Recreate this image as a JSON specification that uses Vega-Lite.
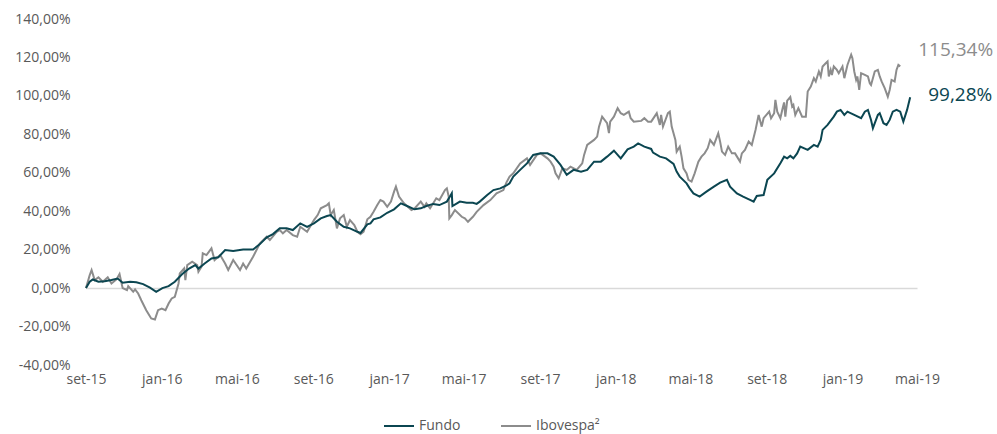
{
  "$schema": "https://vega.github.io/schema/vega-lite/v6.json",
  "width": 831,
  "height": 346,
  "autosize": {"type": "none"},
  "padding": {"left": 86, "top": 19, "right": 80, "bottom": 69},
  "background": "white",
  "config": {
    "view": {"stroke": null},
    "font": "Open Sans",
    "axis": {"labelFont": "Open Sans", "labelFontSize": 14, "labelColor": "#595959", "domain": false, "ticks": false, "grid": false, "title": null}
  },
  "data": {"values": [
{"data":"2015-09-01","serie":"Ibovespa²","valor":0},
{"data":"2015-09-07","serie":"Ibovespa²","valor":6.8},
{"data":"2015-09-10","serie":"Ibovespa²","valor":9.4},
{"data":"2015-09-15","serie":"Ibovespa²","valor":4.2},
{"data":"2015-09-21","serie":"Ibovespa²","valor":5.6},
{"data":"2015-09-28","serie":"Ibovespa²","valor":3.3},
{"data":"2015-10-06","serie":"Ibovespa²","valor":5.6},
{"data":"2015-10-12","serie":"Ibovespa²","valor":2.4},
{"data":"2015-10-20","serie":"Ibovespa²","valor":4.5},
{"data":"2015-10-25","serie":"Ibovespa²","valor":7.3},
{"data":"2015-10-30","serie":"Ibovespa²","valor":0},
{"data":"2015-11-06","serie":"Ibovespa²","valor":-1.0},
{"data":"2015-11-08","serie":"Ibovespa²","valor":1.0},
{"data":"2015-11-16","serie":"Ibovespa²","valor":-1.9},
{"data":"2015-11-19","serie":"Ibovespa²","valor":-0.7},
{"data":"2015-11-24","serie":"Ibovespa²","valor":-2.8},
{"data":"2015-11-29","serie":"Ibovespa²","valor":-6.3},
{"data":"2015-12-07","serie":"Ibovespa²","valor":-11.5},
{"data":"2015-12-15","serie":"Ibovespa²","valor":-15.8},
{"data":"2015-12-21","serie":"Ibovespa²","valor":-16.3},
{"data":"2015-12-26","serie":"Ibovespa²","valor":-11.5},
{"data":"2016-01-01","serie":"Ibovespa²","valor":-10.6},
{"data":"2016-01-07","serie":"Ibovespa²","valor":-11.5},
{"data":"2016-01-12","serie":"Ibovespa²","valor":-8.0},
{"data":"2016-01-17","serie":"Ibovespa²","valor":-5.4},
{"data":"2016-01-22","serie":"Ibovespa²","valor":-4.5},
{"data":"2016-01-28","serie":"Ibovespa²","valor":2.4},
{"data":"2016-01-30","serie":"Ibovespa²","valor":7.6},
{"data":"2016-02-06","serie":"Ibovespa²","valor":10.2},
{"data":"2016-02-08","serie":"Ibovespa²","valor":4.2},
{"data":"2016-02-11","serie":"Ibovespa²","valor":12.0},
{"data":"2016-02-19","serie":"Ibovespa²","valor":13.7},
{"data":"2016-02-27","serie":"Ibovespa²","valor":12.0},
{"data":"2016-02-29","serie":"Ibovespa²","valor":8.5},
{"data":"2016-03-05","serie":"Ibovespa²","valor":11.1},
{"data":"2016-03-07","serie":"Ibovespa²","valor":18.1},
{"data":"2016-03-13","serie":"Ibovespa²","valor":17.2},
{"data":"2016-03-21","serie":"Ibovespa²","valor":20.7},
{"data":"2016-03-26","serie":"Ibovespa²","valor":14.6},
{"data":"2016-04-04","serie":"Ibovespa²","valor":17.2},
{"data":"2016-04-12","serie":"Ibovespa²","valor":12.8},
{"data":"2016-04-17","serie":"Ibovespa²","valor":9.4},
{"data":"2016-04-25","serie":"Ibovespa²","valor":14.6},
{"data":"2016-05-06","serie":"Ibovespa²","valor":9.4},
{"data":"2016-05-11","serie":"Ibovespa²","valor":12.8},
{"data":"2016-05-16","serie":"Ibovespa²","valor":10.2},
{"data":"2016-05-27","serie":"Ibovespa²","valor":16.3},
{"data":"2016-06-07","serie":"Ibovespa²","valor":23.3},
{"data":"2016-06-18","serie":"Ibovespa²","valor":26.7},
{"data":"2016-06-23","serie":"Ibovespa²","valor":25.0},
{"data":"2016-07-04","serie":"Ibovespa²","valor":29.3},
{"data":"2016-07-09","serie":"Ibovespa²","valor":30.2},
{"data":"2016-07-14","serie":"Ibovespa²","valor":28.5},
{"data":"2016-07-20","serie":"Ibovespa²","valor":30.2},
{"data":"2016-07-30","serie":"Ibovespa²","valor":27.6},
{"data":"2016-08-06","serie":"Ibovespa²","valor":26.7},
{"data":"2016-08-11","serie":"Ibovespa²","valor":31.9},
{"data":"2016-08-22","serie":"Ibovespa²","valor":29.3},
{"data":"2016-09-02","serie":"Ibovespa²","valor":35.4},
{"data":"2016-09-08","serie":"Ibovespa²","valor":38.0},
{"data":"2016-09-13","serie":"Ibovespa²","valor":41.5},
{"data":"2016-09-23","serie":"Ibovespa²","valor":43.2},
{"data":"2016-09-26","serie":"Ibovespa²","valor":44.1},
{"data":"2016-09-29","serie":"Ibovespa²","valor":38.0},
{"data":"2016-10-04","serie":"Ibovespa²","valor":40.6},
{"data":"2016-10-09","serie":"Ibovespa²","valor":31.1},
{"data":"2016-10-14","serie":"Ibovespa²","valor":36.3},
{"data":"2016-10-20","serie":"Ibovespa²","valor":38.0},
{"data":"2016-10-25","serie":"Ibovespa²","valor":31.9},
{"data":"2016-10-30","serie":"Ibovespa²","valor":35.4},
{"data":"2016-11-06","serie":"Ibovespa²","valor":32.8},
{"data":"2016-11-11","serie":"Ibovespa²","valor":29.3},
{"data":"2016-11-16","serie":"Ibovespa²","valor":28.0},
{"data":"2016-11-21","serie":"Ibovespa²","valor":29.3},
{"data":"2016-11-27","serie":"Ibovespa²","valor":35.8},
{"data":"2016-12-02","serie":"Ibovespa²","valor":37.1},
{"data":"2016-12-07","serie":"Ibovespa²","valor":39.7},
{"data":"2016-12-13","serie":"Ibovespa²","valor":43.2},
{"data":"2016-12-18","serie":"Ibovespa²","valor":45.8},
{"data":"2016-12-23","serie":"Ibovespa²","valor":45.0},
{"data":"2016-12-29","serie":"Ibovespa²","valor":42.3},
{"data":"2017-01-04","serie":"Ibovespa²","valor":45.0},
{"data":"2017-01-09","serie":"Ibovespa²","valor":50.2},
{"data":"2017-01-12","serie":"Ibovespa²","valor":52.8},
{"data":"2017-01-17","serie":"Ibovespa²","valor":47.6},
{"data":"2017-01-25","serie":"Ibovespa²","valor":44.1},
{"data":"2017-02-06","serie":"Ibovespa²","valor":40.6},
{"data":"2017-02-11","serie":"Ibovespa²","valor":41.5},
{"data":"2017-02-21","serie":"Ibovespa²","valor":45.0},
{"data":"2017-02-27","serie":"Ibovespa²","valor":42.3},
{"data":"2017-03-02","serie":"Ibovespa²","valor":44.1},
{"data":"2017-03-08","serie":"Ibovespa²","valor":41.5},
{"data":"2017-03-18","serie":"Ibovespa²","valor":46.7},
{"data":"2017-03-23","serie":"Ibovespa²","valor":45.8},
{"data":"2017-04-01","serie":"Ibovespa²","valor":51.0},
{"data":"2017-04-04","serie":"Ibovespa²","valor":51.9},
{"data":"2017-04-07","serie":"Ibovespa²","valor":47.6},
{"data":"2017-04-08","serie":"Ibovespa²","valor":36.3},
{"data":"2017-04-12","serie":"Ibovespa²","valor":38.0},
{"data":"2017-04-17","serie":"Ibovespa²","valor":40.6},
{"data":"2017-04-28","serie":"Ibovespa²","valor":37.1},
{"data":"2017-05-03","serie":"Ibovespa²","valor":36.3},
{"data":"2017-05-08","serie":"Ibovespa²","valor":34.5},
{"data":"2017-05-16","serie":"Ibovespa²","valor":37.1},
{"data":"2017-05-22","serie":"Ibovespa²","valor":39.7},
{"data":"2017-06-02","serie":"Ibovespa²","valor":43.2},
{"data":"2017-06-13","serie":"Ibovespa²","valor":45.8},
{"data":"2017-06-23","serie":"Ibovespa²","valor":49.3},
{"data":"2017-07-04","serie":"Ibovespa²","valor":51.0},
{"data":"2017-07-09","serie":"Ibovespa²","valor":55.0},
{"data":"2017-07-14","serie":"Ibovespa²","valor":58.0},
{"data":"2017-07-20","serie":"Ibovespa²","valor":59.7},
{"data":"2017-07-31","serie":"Ibovespa²","valor":64.9},
{"data":"2017-08-11","serie":"Ibovespa²","valor":67.5},
{"data":"2017-08-16","serie":"Ibovespa²","valor":64.1},
{"data":"2017-08-27","serie":"Ibovespa²","valor":69.3},
{"data":"2017-09-02","serie":"Ibovespa²","valor":70.1},
{"data":"2017-09-13","serie":"Ibovespa²","valor":67.5},
{"data":"2017-09-18","serie":"Ibovespa²","valor":65.8},
{"data":"2017-09-23","serie":"Ibovespa²","valor":63.2},
{"data":"2017-09-26","serie":"Ibovespa²","valor":59.7},
{"data":"2017-10-01","serie":"Ibovespa²","valor":57.1},
{"data":"2017-10-07","serie":"Ibovespa²","valor":62.3},
{"data":"2017-10-14","serie":"Ibovespa²","valor":61.5},
{"data":"2017-10-20","serie":"Ibovespa²","valor":63.2},
{"data":"2017-10-30","serie":"Ibovespa²","valor":61.5},
{"data":"2017-11-08","serie":"Ibovespa²","valor":64.9},
{"data":"2017-11-11","serie":"Ibovespa²","valor":69.3},
{"data":"2017-11-16","serie":"Ibovespa²","valor":74.5},
{"data":"2017-11-27","serie":"Ibovespa²","valor":77.1},
{"data":"2017-12-02","serie":"Ibovespa²","valor":78.8},
{"data":"2017-12-05","serie":"Ibovespa²","valor":84.0},
{"data":"2017-12-10","serie":"Ibovespa²","valor":89.2},
{"data":"2017-12-18","serie":"Ibovespa²","valor":85.8},
{"data":"2017-12-21","serie":"Ibovespa²","valor":80.6},
{"data":"2017-12-23","serie":"Ibovespa²","valor":86.6},
{"data":"2017-12-29","serie":"Ibovespa²","valor":89.2},
{"data":"2018-01-04","serie":"Ibovespa²","valor":93.6},
{"data":"2018-01-09","serie":"Ibovespa²","valor":91.0},
{"data":"2018-01-14","serie":"Ibovespa²","valor":90.1},
{"data":"2018-01-22","serie":"Ibovespa²","valor":91.8},
{"data":"2018-01-25","serie":"Ibovespa²","valor":88.4},
{"data":"2018-01-30","serie":"Ibovespa²","valor":86.6},
{"data":"2018-02-11","serie":"Ibovespa²","valor":87.0},
{"data":"2018-02-16","serie":"Ibovespa²","valor":88.4},
{"data":"2018-02-22","serie":"Ibovespa²","valor":86.6},
{"data":"2018-02-27","serie":"Ibovespa²","valor":86.6},
{"data":"2018-03-08","serie":"Ibovespa²","valor":91.0},
{"data":"2018-03-13","serie":"Ibovespa²","valor":84.9},
{"data":"2018-03-15","serie":"Ibovespa²","valor":90.1},
{"data":"2018-03-18","serie":"Ibovespa²","valor":84.0},
{"data":"2018-03-26","serie":"Ibovespa²","valor":91.0},
{"data":"2018-03-29","serie":"Ibovespa²","valor":91.8},
{"data":"2018-04-01","serie":"Ibovespa²","valor":84.0},
{"data":"2018-04-07","serie":"Ibovespa²","valor":77.1},
{"data":"2018-04-09","serie":"Ibovespa²","valor":71.0},
{"data":"2018-04-14","serie":"Ibovespa²","valor":73.6},
{"data":"2018-04-17","serie":"Ibovespa²","valor":68.4},
{"data":"2018-04-20","serie":"Ibovespa²","valor":62.3},
{"data":"2018-04-25","serie":"Ibovespa²","valor":59.7},
{"data":"2018-04-28","serie":"Ibovespa²","valor":56.3},
{"data":"2018-05-03","serie":"Ibovespa²","valor":55.4},
{"data":"2018-05-08","serie":"Ibovespa²","valor":59.7},
{"data":"2018-05-14","serie":"Ibovespa²","valor":65.8},
{"data":"2018-05-19","serie":"Ibovespa²","valor":68.4},
{"data":"2018-05-24","serie":"Ibovespa²","valor":70.1},
{"data":"2018-05-29","serie":"Ibovespa²","valor":72.8},
{"data":"2018-06-02","serie":"Ibovespa²","valor":77.1},
{"data":"2018-06-08","serie":"Ibovespa²","valor":74.5},
{"data":"2018-06-15","serie":"Ibovespa²","valor":80.6},
{"data":"2018-06-18","serie":"Ibovespa²","valor":76.2},
{"data":"2018-06-21","serie":"Ibovespa²","valor":71.0},
{"data":"2018-06-26","serie":"Ibovespa²","valor":69.3},
{"data":"2018-07-01","serie":"Ibovespa²","valor":73.6},
{"data":"2018-07-07","serie":"Ibovespa²","valor":70.1},
{"data":"2018-07-12","serie":"Ibovespa²","valor":70.1},
{"data":"2018-07-20","serie":"Ibovespa²","valor":65.8},
{"data":"2018-07-23","serie":"Ibovespa²","valor":70.1},
{"data":"2018-07-28","serie":"Ibovespa²","valor":71.9},
{"data":"2018-08-03","serie":"Ibovespa²","valor":76.2},
{"data":"2018-08-08","serie":"Ibovespa²","valor":74.5},
{"data":"2018-08-14","serie":"Ibovespa²","valor":82.3},
{"data":"2018-08-19","serie":"Ibovespa²","valor":90.1},
{"data":"2018-08-24","serie":"Ibovespa²","valor":84.0},
{"data":"2018-08-27","serie":"Ibovespa²","valor":88.4},
{"data":"2018-09-05","serie":"Ibovespa²","valor":91.8},
{"data":"2018-09-08","serie":"Ibovespa²","valor":88.4},
{"data":"2018-09-13","serie":"Ibovespa²","valor":91.0},
{"data":"2018-09-15","serie":"Ibovespa²","valor":97.9},
{"data":"2018-09-18","serie":"Ibovespa²","valor":91.8},
{"data":"2018-09-23","serie":"Ibovespa²","valor":88.4},
{"data":"2018-09-26","serie":"Ibovespa²","valor":92.7},
{"data":"2018-09-29","serie":"Ibovespa²","valor":96.6},
{"data":"2018-10-01","serie":"Ibovespa²","valor":89.2},
{"data":"2018-10-04","serie":"Ibovespa²","valor":97.5},
{"data":"2018-10-09","serie":"Ibovespa²","valor":99.4},
{"data":"2018-10-12","serie":"Ibovespa²","valor":94.4},
{"data":"2018-10-14","serie":"Ibovespa²","valor":95.3},
{"data":"2018-10-17","serie":"Ibovespa²","valor":90.1},
{"data":"2018-10-22","serie":"Ibovespa²","valor":93.6},
{"data":"2018-10-28","serie":"Ibovespa²","valor":89.2},
{"data":"2018-11-03","serie":"Ibovespa²","valor":89.2},
{"data":"2018-11-06","serie":"Ibovespa²","valor":102.3},
{"data":"2018-11-11","serie":"Ibovespa²","valor":104.8},
{"data":"2018-11-16","serie":"Ibovespa²","valor":109.2},
{"data":"2018-11-19","serie":"Ibovespa²","valor":107.5},
{"data":"2018-11-24","serie":"Ibovespa²","valor":112.7},
{"data":"2018-11-27","serie":"Ibovespa²","valor":110.1},
{"data":"2018-11-30","serie":"Ibovespa²","valor":115.3},
{"data":"2018-12-05","serie":"Ibovespa²","valor":117.0},
{"data":"2018-12-08","serie":"Ibovespa²","valor":117.9},
{"data":"2018-12-10","serie":"Ibovespa²","valor":110.1},
{"data":"2018-12-13","serie":"Ibovespa²","valor":113.5},
{"data":"2018-12-15","serie":"Ibovespa²","valor":110.9},
{"data":"2018-12-18","serie":"Ibovespa²","valor":115.3},
{"data":"2018-12-23","serie":"Ibovespa²","valor":113.5},
{"data":"2018-12-26","serie":"Ibovespa²","valor":111.8},
{"data":"2019-01-01","serie":"Ibovespa²","valor":115.3},
{"data":"2019-01-04","serie":"Ibovespa²","valor":109.2},
{"data":"2019-01-09","serie":"Ibovespa²","valor":116.1},
{"data":"2019-01-12","serie":"Ibovespa²","valor":118.8},
{"data":"2019-01-15","serie":"Ibovespa²","valor":121.4},
{"data":"2019-01-17","serie":"Ibovespa²","valor":119.6},
{"data":"2019-01-20","serie":"Ibovespa²","valor":112.7},
{"data":"2019-01-23","serie":"Ibovespa²","valor":108.3},
{"data":"2019-01-25","serie":"Ibovespa²","valor":110.1},
{"data":"2019-01-28","serie":"Ibovespa²","valor":103.1},
{"data":"2019-01-31","serie":"Ibovespa²","valor":111.8},
{"data":"2019-02-06","serie":"Ibovespa²","valor":110.9},
{"data":"2019-02-11","serie":"Ibovespa²","valor":110.1},
{"data":"2019-02-14","serie":"Ibovespa²","valor":106.6},
{"data":"2019-02-16","serie":"Ibovespa²","valor":105.7},
{"data":"2019-02-22","serie":"Ibovespa²","valor":112.7},
{"data":"2019-02-27","serie":"Ibovespa²","valor":113.5},
{"data":"2019-03-02","serie":"Ibovespa²","valor":110.1},
{"data":"2019-03-05","serie":"Ibovespa²","valor":107.5},
{"data":"2019-03-10","serie":"Ibovespa²","valor":104.0},
{"data":"2019-03-15","serie":"Ibovespa²","valor":99.6},
{"data":"2019-03-18","serie":"Ibovespa²","valor":103.1},
{"data":"2019-03-21","serie":"Ibovespa²","valor":108.3},
{"data":"2019-03-26","serie":"Ibovespa²","valor":107.5},
{"data":"2019-03-29","serie":"Ibovespa²","valor":113.5},
{"data":"2019-04-01","serie":"Ibovespa²","valor":116.1},
{"data":"2019-04-04","serie":"Ibovespa²","valor":115.34,"rotulo":"115,34%"},
{"data":"2015-09-01","serie":"Fundo","valor":0},
{"data":"2015-09-07","serie":"Fundo","valor":3.3},
{"data":"2015-09-12","serie":"Fundo","valor":4.5},
{"data":"2015-09-21","serie":"Fundo","valor":3.3},
{"data":"2015-10-01","serie":"Fundo","valor":3.6},
{"data":"2015-10-12","serie":"Fundo","valor":4.2},
{"data":"2015-10-22","serie":"Fundo","valor":5.0},
{"data":"2015-10-30","serie":"Fundo","valor":2.8},
{"data":"2015-11-11","serie":"Fundo","valor":3.3},
{"data":"2015-11-21","serie":"Fundo","valor":3.0},
{"data":"2015-12-02","serie":"Fundo","valor":2.1},
{"data":"2015-12-13","serie":"Fundo","valor":0.2},
{"data":"2015-12-23","serie":"Fundo","valor":-1.9},
{"data":"2016-01-02","serie":"Fundo","valor":0},
{"data":"2016-01-12","serie":"Fundo","valor":1.0},
{"data":"2016-01-22","serie":"Fundo","valor":3.3},
{"data":"2016-02-03","serie":"Fundo","valor":7.3},
{"data":"2016-02-14","serie":"Fundo","valor":10.2},
{"data":"2016-02-24","serie":"Fundo","valor":12.0},
{"data":"2016-02-29","serie":"Fundo","valor":10.2},
{"data":"2016-03-10","serie":"Fundo","valor":12.8},
{"data":"2016-03-21","serie":"Fundo","valor":15.4},
{"data":"2016-04-01","serie":"Fundo","valor":16.0},
{"data":"2016-04-12","serie":"Fundo","valor":19.8},
{"data":"2016-04-25","serie":"Fundo","valor":19.3},
{"data":"2016-05-11","serie":"Fundo","valor":20.1},
{"data":"2016-05-27","serie":"Fundo","valor":20.1},
{"data":"2016-06-07","serie":"Fundo","valor":22.9},
{"data":"2016-06-18","serie":"Fundo","valor":26.4},
{"data":"2016-06-28","serie":"Fundo","valor":28.1},
{"data":"2016-07-09","serie":"Fundo","valor":31.1},
{"data":"2016-07-20","serie":"Fundo","valor":31.1},
{"data":"2016-07-30","serie":"Fundo","valor":30.2},
{"data":"2016-08-11","serie":"Fundo","valor":33.7},
{"data":"2016-08-22","serie":"Fundo","valor":31.9},
{"data":"2016-09-02","serie":"Fundo","valor":33.7},
{"data":"2016-09-13","serie":"Fundo","valor":36.3},
{"data":"2016-09-23","serie":"Fundo","valor":37.5},
{"data":"2016-09-29","serie":"Fundo","valor":38.0},
{"data":"2016-10-09","serie":"Fundo","valor":34.5},
{"data":"2016-10-20","serie":"Fundo","valor":31.9},
{"data":"2016-10-30","serie":"Fundo","valor":31.1},
{"data":"2016-11-11","serie":"Fundo","valor":29.3},
{"data":"2016-11-16","serie":"Fundo","valor":28.7},
{"data":"2016-11-27","serie":"Fundo","valor":33.2},
{"data":"2016-12-02","serie":"Fundo","valor":33.7},
{"data":"2016-12-07","serie":"Fundo","valor":35.8},
{"data":"2016-12-18","serie":"Fundo","valor":36.8},
{"data":"2016-12-29","serie":"Fundo","valor":39.2},
{"data":"2017-01-09","serie":"Fundo","valor":41.0},
{"data":"2017-01-20","serie":"Fundo","valor":44.1},
{"data":"2017-01-30","serie":"Fundo","valor":42.7},
{"data":"2017-02-11","serie":"Fundo","valor":41.0},
{"data":"2017-02-21","serie":"Fundo","valor":41.5},
{"data":"2017-03-02","serie":"Fundo","valor":42.7},
{"data":"2017-03-13","serie":"Fundo","valor":43.8},
{"data":"2017-03-23","serie":"Fundo","valor":43.2},
{"data":"2017-04-04","serie":"Fundo","valor":45.0},
{"data":"2017-04-09","serie":"Fundo","valor":47.6},
{"data":"2017-04-12","serie":"Fundo","valor":49.3},
{"data":"2017-04-13","serie":"Fundo","valor":42.7},
{"data":"2017-04-25","serie":"Fundo","valor":45.0},
{"data":"2017-05-06","serie":"Fundo","valor":44.4},
{"data":"2017-05-16","serie":"Fundo","valor":44.4},
{"data":"2017-05-22","serie":"Fundo","valor":43.8},
{"data":"2017-05-27","serie":"Fundo","valor":45.0},
{"data":"2017-06-08","serie":"Fundo","valor":48.4},
{"data":"2017-06-18","serie":"Fundo","valor":51.0},
{"data":"2017-06-29","serie":"Fundo","valor":51.9},
{"data":"2017-07-09","serie":"Fundo","valor":53.4},
{"data":"2017-07-14","serie":"Fundo","valor":54.5},
{"data":"2017-07-20","serie":"Fundo","valor":58.0},
{"data":"2017-07-31","serie":"Fundo","valor":61.5},
{"data":"2017-08-11","serie":"Fundo","valor":64.9},
{"data":"2017-08-21","serie":"Fundo","valor":69.3},
{"data":"2017-09-02","serie":"Fundo","valor":70.1},
{"data":"2017-09-13","serie":"Fundo","valor":70.1},
{"data":"2017-09-23","serie":"Fundo","valor":68.4},
{"data":"2017-10-04","serie":"Fundo","valor":64.1},
{"data":"2017-10-14","serie":"Fundo","valor":58.9},
{"data":"2017-10-25","serie":"Fundo","valor":61.5},
{"data":"2017-11-06","serie":"Fundo","valor":60.6},
{"data":"2017-11-16","serie":"Fundo","valor":61.5},
{"data":"2017-11-27","serie":"Fundo","valor":65.8},
{"data":"2017-12-08","serie":"Fundo","valor":65.8},
{"data":"2017-12-18","serie":"Fundo","valor":68.4},
{"data":"2017-12-29","serie":"Fundo","valor":71.5},
{"data":"2018-01-09","serie":"Fundo","valor":67.5},
{"data":"2018-01-20","serie":"Fundo","valor":72.2},
{"data":"2018-01-30","serie":"Fundo","valor":73.6},
{"data":"2018-02-06","serie":"Fundo","valor":75.3},
{"data":"2018-02-16","serie":"Fundo","valor":73.6},
{"data":"2018-02-27","serie":"Fundo","valor":72.4},
{"data":"2018-03-02","serie":"Fundo","valor":70.5},
{"data":"2018-03-13","serie":"Fundo","valor":68.4},
{"data":"2018-03-23","serie":"Fundo","valor":67.5},
{"data":"2018-04-04","serie":"Fundo","valor":64.6},
{"data":"2018-04-09","serie":"Fundo","valor":60.6},
{"data":"2018-04-14","serie":"Fundo","valor":58.0},
{"data":"2018-04-25","serie":"Fundo","valor":54.5},
{"data":"2018-04-30","serie":"Fundo","valor":51.9},
{"data":"2018-05-06","serie":"Fundo","valor":49.3},
{"data":"2018-05-16","serie":"Fundo","valor":47.6},
{"data":"2018-05-27","serie":"Fundo","valor":50.2},
{"data":"2018-06-08","serie":"Fundo","valor":52.8},
{"data":"2018-06-18","serie":"Fundo","valor":54.9},
{"data":"2018-06-29","serie":"Fundo","valor":56.3},
{"data":"2018-07-04","serie":"Fundo","valor":52.8},
{"data":"2018-07-15","serie":"Fundo","valor":49.3},
{"data":"2018-07-25","serie":"Fundo","valor":47.6},
{"data":"2018-08-06","serie":"Fundo","valor":45.8},
{"data":"2018-08-11","serie":"Fundo","valor":45.0},
{"data":"2018-08-16","serie":"Fundo","valor":47.9},
{"data":"2018-08-27","serie":"Fundo","valor":48.4},
{"data":"2018-09-02","serie":"Fundo","valor":56.3},
{"data":"2018-09-13","serie":"Fundo","valor":59.7},
{"data":"2018-09-23","serie":"Fundo","valor":65.0},
{"data":"2018-09-29","serie":"Fundo","valor":68.4},
{"data":"2018-10-04","serie":"Fundo","valor":67.5},
{"data":"2018-10-09","serie":"Fundo","valor":68.8},
{"data":"2018-10-14","serie":"Fundo","valor":67.5},
{"data":"2018-10-20","serie":"Fundo","valor":70.1},
{"data":"2018-10-25","serie":"Fundo","valor":73.6},
{"data":"2018-11-06","serie":"Fundo","valor":71.9},
{"data":"2018-11-16","serie":"Fundo","valor":74.5},
{"data":"2018-11-22","serie":"Fundo","valor":73.6},
{"data":"2018-11-27","serie":"Fundo","valor":77.1},
{"data":"2018-11-30","serie":"Fundo","valor":82.3},
{"data":"2018-12-08","serie":"Fundo","valor":84.9},
{"data":"2018-12-18","serie":"Fundo","valor":89.2},
{"data":"2018-12-23","serie":"Fundo","valor":91.8},
{"data":"2018-12-29","serie":"Fundo","valor":92.7},
{"data":"2019-01-04","serie":"Fundo","valor":90.1},
{"data":"2019-01-09","serie":"Fundo","valor":91.8},
{"data":"2019-01-20","serie":"Fundo","valor":90.1},
{"data":"2019-01-31","serie":"Fundo","valor":88.4},
{"data":"2019-02-06","serie":"Fundo","valor":91.8},
{"data":"2019-02-11","serie":"Fundo","valor":92.7},
{"data":"2019-02-16","serie":"Fundo","valor":87.5},
{"data":"2019-02-19","serie":"Fundo","valor":83.2},
{"data":"2019-02-27","serie":"Fundo","valor":90.1},
{"data":"2019-03-02","serie":"Fundo","valor":91.0},
{"data":"2019-03-08","serie":"Fundo","valor":85.8},
{"data":"2019-03-13","serie":"Fundo","valor":84.9},
{"data":"2019-03-18","serie":"Fundo","valor":87.5},
{"data":"2019-03-23","serie":"Fundo","valor":91.8},
{"data":"2019-03-29","serie":"Fundo","valor":92.7},
{"data":"2019-04-04","serie":"Fundo","valor":91.8},
{"data":"2019-04-09","serie":"Fundo","valor":86.6},
{"data":"2019-04-15","serie":"Fundo","valor":92.7},
{"data":"2019-04-20","serie":"Fundo","valor":99.28,"rotulo":"99,28%"}
  ]},
  "encoding": {
    "x": {
      "field": "data", "type": "temporal",
      "scale": {"domain": [{"year": 2015, "month": 9, "date": 1}, {"year": 2019, "month": 5, "date": 1}]},
      "axis": {
        "values": [
          {"year": 2015, "month": 9, "date": 1}, {"year": 2016, "month": 1, "date": 1}, {"year": 2016, "month": 5, "date": 1},
          {"year": 2016, "month": 9, "date": 1}, {"year": 2017, "month": 1, "date": 1}, {"year": 2017, "month": 5, "date": 1},
          {"year": 2017, "month": 9, "date": 1}, {"year": 2018, "month": 1, "date": 1}, {"year": 2018, "month": 5, "date": 1},
          {"year": 2018, "month": 9, "date": 1}, {"year": 2019, "month": 1, "date": 1}, {"year": 2019, "month": 5, "date": 1}
        ],
        "labelExpr": "['jan','fev','mar','abr','mai','jun','jul','ago','set','out','nov','dez'][month(datum.value)] + '-' + timeFormat(datum.value, '%y')",
        "labelFlush": false,
        "labelOverlap": false,
        "labelPadding": 7,
        "labelBaseline": "top"
      }
    },
    "y": {
      "field": "valor", "type": "quantitative",
      "scale": {"domain": [-40, 140], "nice": false, "zero": false},
      "axis": {
        "values": [-40, -20, 0, 20, 40, 60, 80, 100, 120, 140],
        "labelExpr": "replace(replace(format(datum.value, '.2f'), '.', ','), '\u2212', '-') + '%'",
        "labelPadding": 16,
        "labelFlush": false,
        "labelOverlap": false,
        "grid": true,
        "gridColor": "#d9d9d9",
        "gridWidth": 1.5,
        "gridOpacity": {"condition": {"test": "datum.value === 0", "value": 1}, "value": 0}
      }
    }
  },
  "layer": [
    {
      "mark": {"type": "line", "strokeWidth": 2, "interpolate": "linear"},
      "encoding": {
        "color": {
          "field": "serie", "type": "nominal",
          "scale": {"domain": ["Fundo", "Ibovespa²"], "range": ["#0b4651", "#8c8c8c"]},
          "legend": {
            "orient": "none", "legendX": 297, "legendY": 391, "direction": "horizontal", "title": null,
            "symbolType": "stroke", "symbolSize": 900, "symbolStrokeWidth": 2,
            "labelFont": "Open Sans", "labelFontSize": 14, "labelColor": "#595959",
            "columnPadding": 36, "labelOffset": 4
          }
        },
        "order": {"field": "serie", "sort": "descending"}
      }
    },
    {
      "transform": [{"filter": "datum.serie === 'Fundo' && isValid(datum.rotulo)"}],
      "mark": {"type": "text", "align": "left", "baseline": "middle", "dx": 18, "dy": -2, "fontSize": 19, "font": "Open Sans", "color": "#0b4651"},
      "encoding": {"text": {"field": "rotulo", "type": "nominal"}}
    },
    {
      "transform": [{"filter": "datum.serie !== 'Fundo' && isValid(datum.rotulo)"}],
      "mark": {"type": "text", "align": "left", "baseline": "middle", "dx": 18, "dy": -16, "fontSize": 19, "font": "Open Sans", "color": "#8c8c8c"},
      "encoding": {"text": {"field": "rotulo", "type": "nominal"}}
    }
  ]
}
